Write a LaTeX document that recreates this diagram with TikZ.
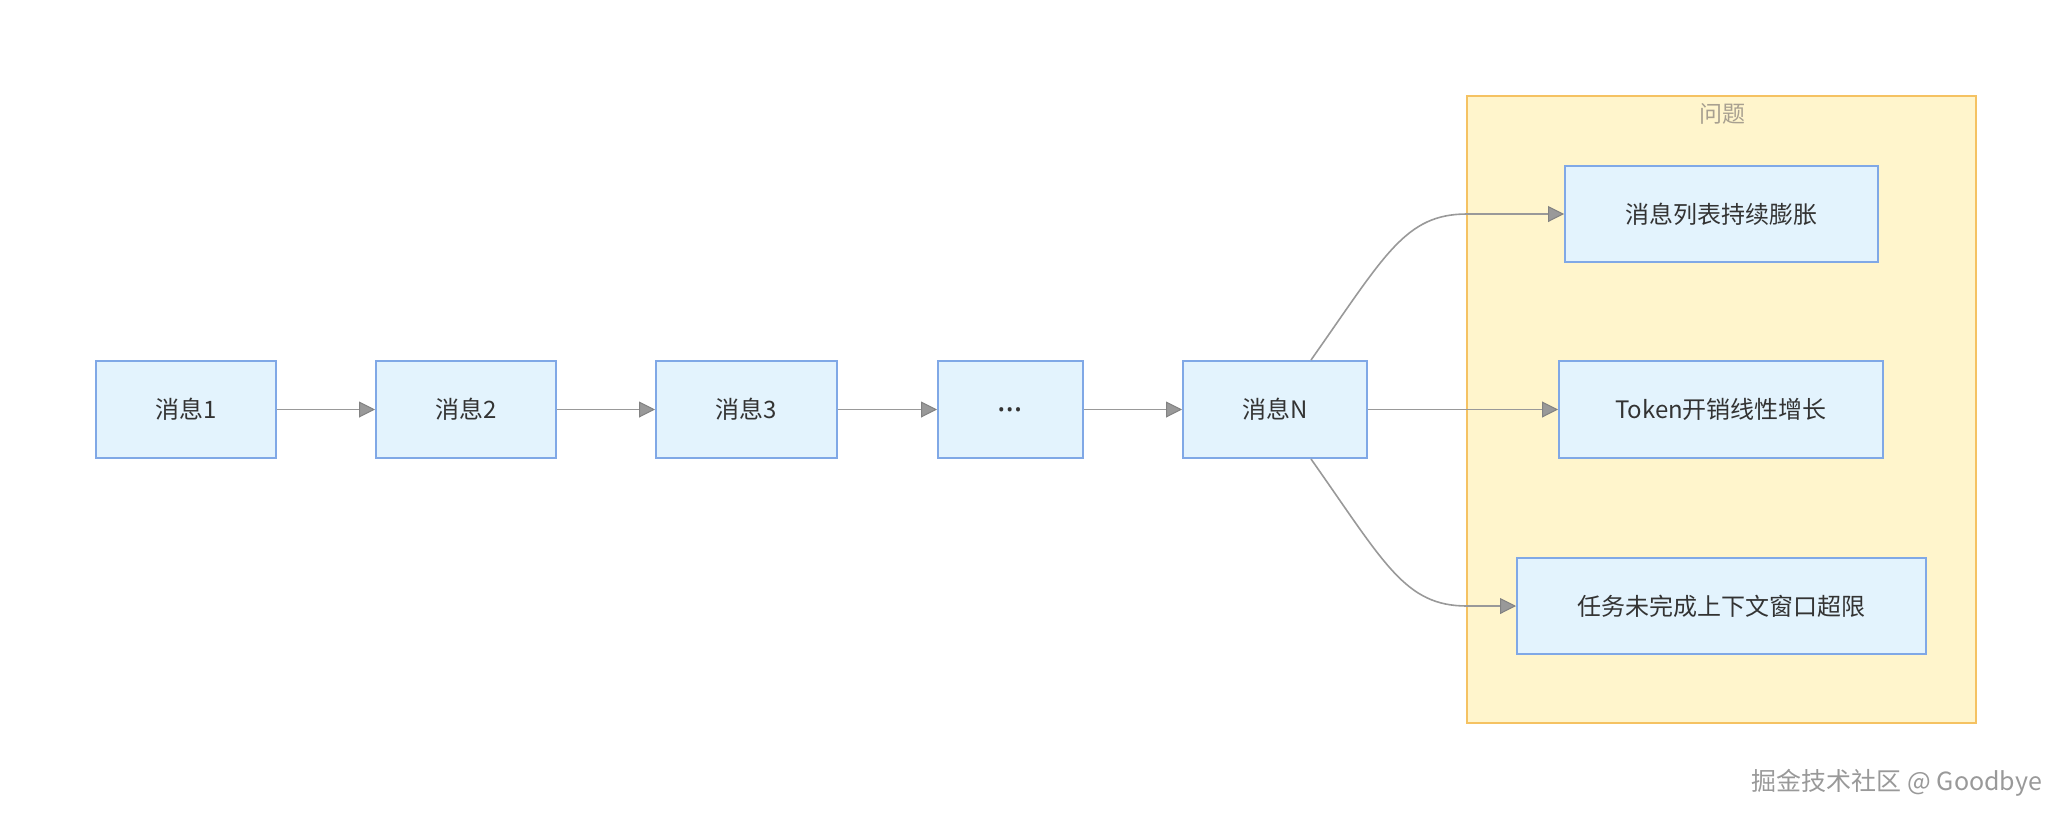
\documentclass[tikz,border=0pt]{standalone}
\usepackage{fontspec}
\setmainfont{Noto Sans CJK SC}
\newfontfamily\latinfont{Noto Sans}
\usepackage{xcolor}
\usetikzlibrary{arrows.meta, positioning, calc}
\definecolor{mblue}{HTML}{E3F3FD}
\definecolor{mblueline}{HTML}{80A8E6}
\definecolor{myellow}{HTML}{FFF5CC}
\definecolor{myellowline}{HTML}{F5C262}
\definecolor{mtext}{HTML}{333333}
\definecolor{mgray}{HTML}{999999}
\definecolor{mtitle}{HTML}{A8A090}

\tikzset{
  msgbox/.style={draw=mblueline, fill=mblue, line width=1pt, inner sep=0pt,
    minimum height=48.5pt, font=\fontsize{12}{14}\selectfont, text=mtext},
  flow/.style={draw=mgray, line width=0.8pt,
    -{Triangle[length=8pt, width=8pt, fill=mgray, color=mgray!85!black, line width=0.5pt]}}
}

\begin{document}
\begin{tikzpicture}[x=0.5pt, y=-0.5pt]
  \useasboundingbox (0,0) rectangle (2071,820);

  %% problem cluster
  \fill[myellow, draw=myellowline, line width=1pt] (1467,96) rectangle (1976,723);
  \node[font=\fontsize{11.5}{13}\selectfont, text=mtitle] (ctitle) at (1722,114) {问题};

  %% message chain
  \node[msgbox, minimum width=90pt] (m1) at (186,409.5) {消息1};
  \node[msgbox, minimum width=90pt] (m2) at (466,409.5) {消息2};
  \node[msgbox, minimum width=90.5pt] (m3) at (746.5,409.5) {消息3};
  \node[msgbox, minimum width=72.5pt] (mdots) at (1010.5,409.5) {\latinfont\fontsize{16}{16}\selectfont …};
  \node[msgbox, minimum width=92pt] (mN) at (1275,409.5) {消息N};

  %% problems
  \node[msgbox, minimum width=156.5pt, minimum height=48pt] (p1) at (1721.5,214) {消息列表持续膨胀};
  \node[msgbox, minimum width=162pt] (p2) at (1721,409.5) {Token开销线性增长};
  \node[msgbox, minimum width=204.5pt, minimum height=48pt] (p3) at (1721.5,606) {任务未完成上下文窗口超限};

  %% connectors
  \foreach \a/\b in {m1/m2, m2/m3, m3/mdots, mdots/mN, mN/p2}{
    \draw[flow] (\a) -- (\b);
  }
  \coordinate (nup) at ($(mN.north)+(36,0)$);
  \coordinate (ndown) at ($(mN.south)+(36,0)$);
  \draw[flow] (nup) .. controls (1385,255) and (1405,214) .. (1467,214) -- (p1.west);
  \draw[flow] (ndown) .. controls (1385,564) and (1405,606) .. (1467,606) -- (p3.west);

  %% watermark
  \node[font=\fontsize{12.5}{14}\selectfont, text=gray!80, anchor=east] (mark) at (2049,783)
    {掘金技术社区 @ Goodbye};

\end{tikzpicture}
\end{document}
